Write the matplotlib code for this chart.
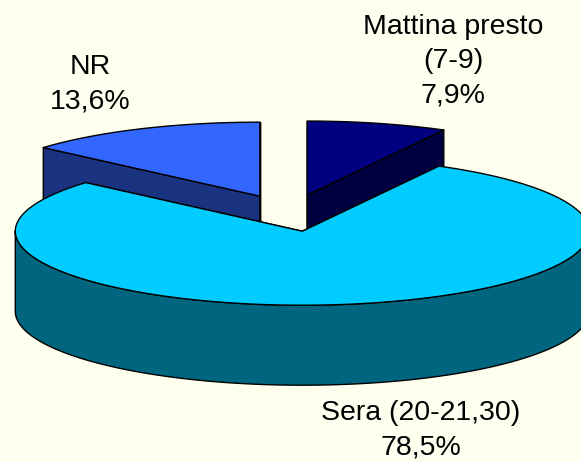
import numpy as np
import matplotlib.pyplot as plt
from matplotlib.patches import Polygon

# data (clockwise from 12 o'clock, as in the original Excel chart)
labels = ["Mattina presto\n(7-9)", "Sera (20-21,30)", "NR"]
values = [7.9, 78.5, 13.6]
top_colors = ["#000080", "#00CCFF", "#3366FF"]
side_colors = ["#000040", "#006680", "#1A3380"]

# layout in pixels
W, H = 581, 462
cx, cy = 289.5, 213      # centre of the un-exploded pie
a, b = 287, 74           # ellipse semi axes
depth = 80
explode = 0.25
label_pos = [(453, 61), (421, 430), (90, 84)]

plt.rcParams['font.family'] = ['Liberation Sans', 'DejaVu Sans']

fig = plt.figure(figsize=(W / 100, H / 100), dpi=100)
fig.patch.set_facecolor("#FFFFF0")
ax = fig.add_axes([0, 0, 1, 1])
ax.set_xlim(0, W)
ax.set_ylim(H, 0)
ax.axis("off")

frac = np.array(values) / sum(values) * 2 * np.pi
ends = np.cumsum(frac)
starts = ends - frac


def rim(t, ox, oy, dz=0):
    return np.column_stack([ox + a * np.sin(t), oy - b * np.cos(t) + dz])


def poly(pts, fc, z):
    ax.add_patch(Polygon(pts, closed=True, fc=fc, ec="black", lw=1.0,
                         joinstyle="round", zorder=z))


# back slices first
order = sorted(range(len(values)), key=lambda i: -np.cos((starts[i] + ends[i]) / 2))
for z, i in enumerate(order):
    t0, t1 = starts[i], ends[i]
    mid = (t0 + t1) / 2
    ox = cx + explode * a * np.sin(mid)
    oy = cy - explode * b * np.cos(mid)
    v = np.array([ox, oy])
    base = z * 10

    # radial walls
    for t in (t0, t1):
        r = rim(np.array([t]), ox, oy)[0]
        poly([v, r, r + [0, depth], v + [0, depth]], side_colors[i], base + 1)

    # outer curved side, front half only
    lo, hi = max(t0, np.pi / 2), min(t1, 3 * np.pi / 2)
    if hi > lo:
        tt = np.linspace(lo, hi, 200)
        pts = np.vstack([rim(tt, ox, oy), rim(tt[::-1], ox, oy, depth)])
        poly(pts, side_colors[i], base + 2)

    # top face
    tt = np.linspace(t0, t1, 300)
    poly(np.vstack([v, rim(tt, ox, oy)]), top_colors[i], base + 3)

for i, (x, y) in enumerate(label_pos):
    txt = labels[i] + "\n" + f"{values[i]:.1f}".replace(".", ",") + "%"
    ax.text(x, y, txt, ha="center", va="center", fontsize=20.5,
            linespacing=1.4, color="black", zorder=100)

fig.savefig("out.png", dpi=100, facecolor=fig.get_facecolor())
